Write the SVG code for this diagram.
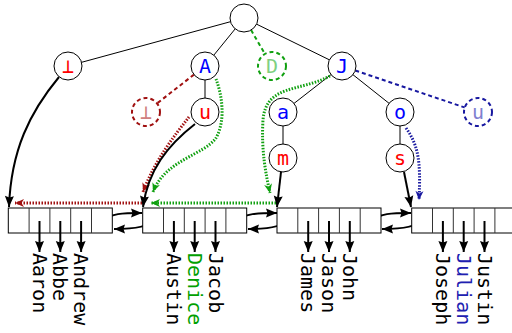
<svg xmlns="http://www.w3.org/2000/svg" width="512" height="333" viewBox="0 0 512 333">
<defs>
<style>
.n{fill:#fff;stroke:#000;stroke-width:1}
.nd{fill:#fff;stroke-width:2;stroke-dasharray:4 3}
.t{font-family:"DejaVu Sans Mono",monospace;font-size:20px;text-anchor:middle}
.e{stroke:#000;stroke-width:1;fill:none}
.ed{stroke-width:2;stroke-dasharray:4 3;fill:none}
.a{stroke:#000;stroke-width:2;fill:none;marker-end:url(#ah)}
.dot{stroke-width:3;stroke-dasharray:1.5 1.5;fill:none}
.arr{fill:#fff;stroke:#000;stroke-width:1}
.cd{stroke:#333;stroke-width:1}
.lb{font-family:"DejaVu Sans Mono",monospace;font-size:20px}
</style>
<marker id="ah" markerUnits="userSpaceOnUse" markerWidth="12" markerHeight="10" refX="11" refY="5" orient="auto" overflow="visible">
<path d="M0,0.5 L11,5 L0,9.5 L1.5,5 z" fill="#000"/>
</marker>
<marker id="ar" markerUnits="userSpaceOnUse" markerWidth="10" markerHeight="9" refX="9" refY="4.5" orient="auto" overflow="visible">
<path d="M0,0.5 L9,4.5 L0,8.5 L2.5,4.5 z" fill="#a01010"/>
</marker>
<marker id="ag" markerUnits="userSpaceOnUse" markerWidth="10" markerHeight="9" refX="9" refY="4.5" orient="auto" overflow="visible">
<path d="M0,0.5 L9,4.5 L0,8.5 L2.5,4.5 z" fill="#10a010"/>
</marker>
<marker id="ab" markerUnits="userSpaceOnUse" markerWidth="10" markerHeight="9" refX="9" refY="4.5" orient="auto" overflow="visible">
<path d="M0,0.5 L9,4.5 L0,8.5 L2.5,4.5 z" fill="#1818a0"/>
</marker>
</defs>
<rect width="512" height="333" fill="#fff"/>

<g id="connectors">
<line class="e" x1="244" y1="18" x2="68" y2="66"/>
<line class="e" x1="244" y1="18" x2="205" y2="66"/>
<line class="e" x1="244" y1="18" x2="342" y2="66"/>
<line class="e" x1="205" y1="66" x2="205" y2="112"/>
<line class="e" x1="342" y1="66" x2="283" y2="112"/>
<line class="e" x1="342" y1="66" x2="400" y2="112"/>
<line class="e" x1="283" y1="112" x2="283" y2="158"/>
<line class="e" x1="400" y1="112" x2="400" y2="158"/>
<line class="ed" stroke="#10a010" x1="244" y1="18" x2="272" y2="66"/>
<line class="ed" stroke="#a01010" x1="205" y1="66" x2="146" y2="112"/>
<line class="ed" stroke="#1818a0" x1="342" y1="66" x2="478" y2="112"/>

<path class="dot" stroke="#a01010" d="M189,117 C175,135 155,160 143,192" marker-end="url(#ar)"/>
<path class="dot" stroke="#a01010" d="M142,203 L15,203" marker-end="url(#ar)"/>
<path class="dot" stroke="#10a010" d="M216,79 C222,95 226,120 216,138 C204,155 165,160 153,192" marker-end="url(#ag)"/>
<path class="dot" stroke="#10a010" d="M276,203 L151,203" marker-end="url(#ag)"/>
<path class="dot" stroke="#10a010" d="M330,76 C300,92 266,84 263,120 C261,150 266,175 270,193" marker-end="url(#ag)"/>
<path class="dot" stroke="#1818a0" d="M406,128 C418,145 421,160 419,200" marker-end="url(#ab)"/>

<path class="a" d="M59,77 C30,112 11,150 9,207"/>
<path class="a" d="M195,124 C168,145 148,170 143,207"/>
<path class="a" d="M281,172 L277,207"/>
<path class="a" d="M404,172 L411,207"/>

<path class="a" d="M103,222 C108,213 125,213 142,213"/>
<path class="a" d="M152,220 C149,228 130,229 114,229"/>
<path class="a" d="M237,222 C242,213 260,213 277,213"/>
<path class="a" d="M286,220 C283,228 264,229 248,229"/>
<path class="a" d="M372,222 C377,213 394,213 411,213"/>
<path class="a" d="M420,220 C417,228 398,229 382,229"/>
</g>

<g id="root"><circle class="n" cx="244" cy="18" r="14"/></g>
<g id="n-bot"><circle class="n" cx="68" cy="66" r="14"/><text class="t" x="68" y="73" fill="#f00">⊥</text></g>
<g id="n-A"><circle class="n" cx="205" cy="66" r="14"/><text class="t" x="205" y="73" fill="#00f">A</text></g>
<g id="n-D"><circle class="nd" stroke="#10a010" cx="272" cy="66" r="14"/><text class="t" x="272" y="73" fill="#80d080">D</text></g>
<g id="n-J"><circle class="n" cx="342" cy="66" r="14"/><text class="t" x="342" y="73" fill="#00f">J</text></g>
<g id="n-Abot"><circle class="nd" stroke="#a01010" cx="146" cy="112" r="14"/><text class="t" x="146" y="119" fill="#d08080">⊥</text></g>
<g id="n-Au"><circle class="n" cx="205" cy="112" r="14"/><text class="t" x="205" y="119" fill="#f00">u</text></g>
<g id="n-Ja"><circle class="n" cx="283" cy="112" r="14"/><text class="t" x="283" y="119" fill="#00f">a</text></g>
<g id="n-Jo"><circle class="n" cx="400" cy="112" r="14"/><text class="t" x="400" y="119" fill="#00f">o</text></g>
<g id="n-Ju"><circle class="nd" stroke="#1818a0" cx="478" cy="112" r="14"/><text class="t" x="478" y="119" fill="#8080d0">u</text></g>
<g id="n-Jam"><circle class="n" cx="283" cy="158" r="14"/><text class="t" x="283" y="165" fill="#f00">m</text></g>
<g id="n-Jos"><circle class="n" cx="400" cy="158" r="14"/><text class="t" x="400" y="165" fill="#f00">s</text></g>

<g id="array1">
<rect class="arr" x="8.3" y="208" width="104" height="25"/>
<line class="cd" x1="29.1" y1="208" x2="29.1" y2="233"/><line class="cd" x1="49.9" y1="208" x2="49.9" y2="233"/><line class="cd" x1="70.7" y1="208" x2="70.7" y2="233"/><line class="cd" x1="91.5" y1="208" x2="91.5" y2="233"/>
<path class="a" d="M39.5,221 V252"/><path class="a" d="M60.3,221 V252"/><path class="a" d="M81.1,221 V252"/>
<text class="lb" transform="translate(32.5,253) rotate(90)">Aaron</text>
<text class="lb" transform="translate(53.3,253) rotate(90)">Abbe</text>
<text class="lb" transform="translate(74.1,253) rotate(90)">Andrew</text>
</g>
<g id="array2">
<rect class="arr" x="142.7" y="208" width="104" height="25"/>
<line class="cd" x1="163.5" y1="208" x2="163.5" y2="233"/><line class="cd" x1="184.3" y1="208" x2="184.3" y2="233"/><line class="cd" x1="205.1" y1="208" x2="205.1" y2="233"/><line class="cd" x1="225.9" y1="208" x2="225.9" y2="233"/>
<path class="a" d="M173.9,221 V252"/><path class="a" d="M194.7,221 V252"/><path class="a" d="M215.5,221 V252"/>
<text class="lb" transform="translate(166.9,253) rotate(90)">Austin</text>
<text class="lb" fill="#00a000" transform="translate(187.7,253) rotate(90)">Denice</text>
<text class="lb" transform="translate(208.5,253) rotate(90)">Jacob</text>
</g>
<g id="array3">
<rect class="arr" x="277" y="208" width="104" height="25"/>
<line class="cd" x1="297.8" y1="208" x2="297.8" y2="233"/><line class="cd" x1="318.6" y1="208" x2="318.6" y2="233"/><line class="cd" x1="339.4" y1="208" x2="339.4" y2="233"/><line class="cd" x1="360.2" y1="208" x2="360.2" y2="233"/>
<path class="a" d="M308.2,221 V252"/><path class="a" d="M329,221 V252"/><path class="a" d="M349.8,221 V252"/>
<text class="lb" transform="translate(301.2,253) rotate(90)">James</text>
<text class="lb" transform="translate(322,253) rotate(90)">Jason</text>
<text class="lb" transform="translate(342.8,253) rotate(90)">John</text>
</g>
<g id="array4">
<rect class="arr" x="411.7" y="208" width="104" height="25"/>
<line class="cd" x1="432.5" y1="208" x2="432.5" y2="233"/><line class="cd" x1="453.3" y1="208" x2="453.3" y2="233"/><line class="cd" x1="474.1" y1="208" x2="474.1" y2="233"/><line class="cd" x1="494.9" y1="208" x2="494.9" y2="233"/>
<path class="a" d="M442.9,221 V252"/><path class="a" d="M463.7,221 V252"/><path class="a" d="M484.5,221 V252"/>
<text class="lb" transform="translate(435.9,253) rotate(90)">Joseph</text>
<text class="lb" fill="#2020b0" transform="translate(456.7,253) rotate(90)">Julian</text>
<text class="lb" transform="translate(477.5,253) rotate(90)">Justin</text>
</g>
</svg>
